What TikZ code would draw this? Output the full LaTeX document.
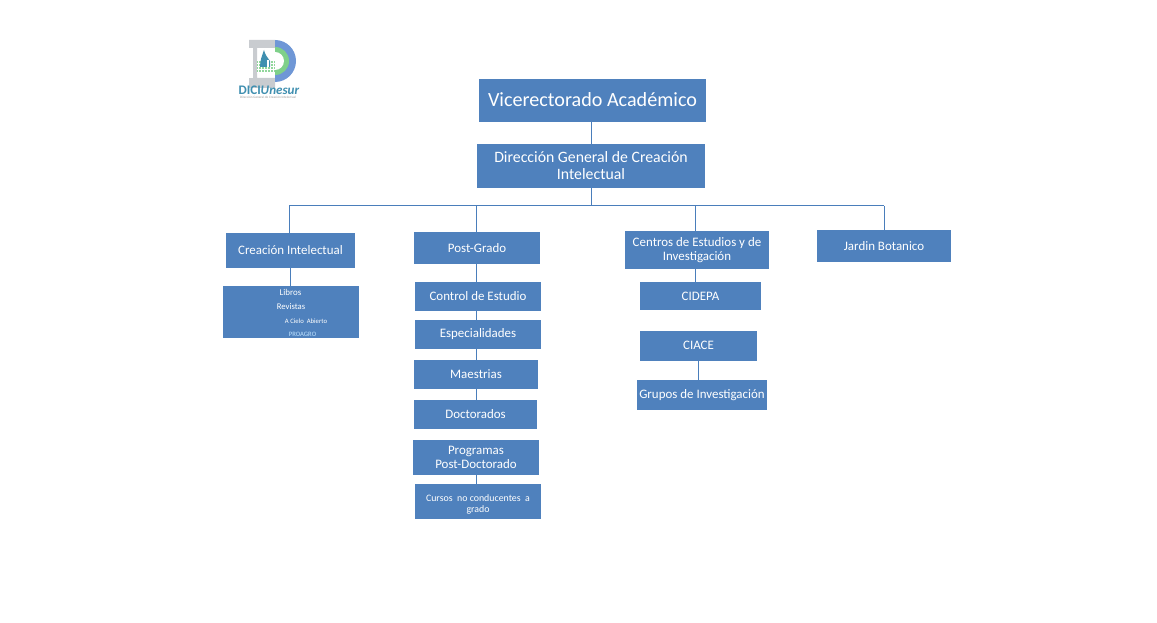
\documentclass[tikz,border=0pt]{standalone}
\usepackage{fontspec}
\setmainfont{Carlito}
\definecolor{boxblue}{HTML}{4F81BD}
\definecolor{linkblue}{HTML}{4A7EBB}
\definecolor{logogray}{HTML}{C9CCD0}
\definecolor{logoblue}{HTML}{6F97D6}
\definecolor{logogreen}{HTML}{7FD08A}
\definecolor{logoteal}{HTML}{3F8FB0}
\definecolor{paleblue}{HTML}{BFE3FF}
\tikzset{
  x=0.75pt,y=-0.75pt,
  orgbox/.style={rectangle,fill=boxblue,text=white,align=center,inner sep=0pt,font=\fontsize{9.7}{10.5}\selectfont},
  link/.style={draw=linkblue,line width=0.75pt},
  listitem/.style={text=white,inner sep=0pt}
}
% box given by its corners in pixel units
\newcommand{\orgnode}[7][]{%
  \node[orgbox,#1,minimum width=(#5-#3)*0.75pt,minimum height=(#6-#4)*0.75pt] (#2) at ({(#3+#5)/2},{(#4+#6)/2}) {#7};}
\begin{document}
\begin{tikzpicture}
\useasboundingbox (0,0) rectangle (1157,623);
\fill[white] (0,0) rectangle (1157,623);

% emblem of the directorate
\fill[logogray,even odd rule] (249,40) rectangle (275,88) (257,48) rectangle (275,78);
\fill[white] (249,48) rectangle (253,78);
\fill[logoblue] (275,40) arc[start angle=-90,end angle=90,x radius=21,y radius=21] -- cycle;
\fill[logogreen] (275,47) arc[start angle=-90,end angle=90,x radius=14,y radius=14] -- cycle;
\fill[white] (275,52) arc[start angle=-90,end angle=90,x radius=9,y radius=9] -- cycle;
\fill[logogreen!85] (257,60) rectangle (275,73);
\draw[white,line width=0.3pt,step=2.25pt] (257,60) grid (275,73);
\fill[logoteal] (264,50) .. controls (262,56) and (260,60) .. (260,67) -- (270,67) -- (270,61) .. controls (268,58) and (265,55) .. (264,50) -- cycle;
\fill[white] (267,60) rectangle (268.5,67);
\node[listitem,text=logoteal,font=\fontsize{9.8}{10}\selectfont\bfseries] (logotext) at (269,90) {DICI\textit{Unesur}};
\node[listitem,text=gray!80,font=\fontsize{2.5}{3}\selectfont] (logosub) at (268,97) {Dirección General de Creación Intelectual};

% organisation boxes
\orgnode[font=\fontsize{15.1}{18}\selectfont]{vice}{479}{79}{706}{122}{\raisebox{1.5pt}{Vicerectorado Académico}}
\orgnode[font=\fontsize{11.85}{12.75}\selectfont]{dg}{477}{144}{705}{188}{Dirección General de Creación\\Intelectual}
\orgnode{ci}{226}{233}{355}{268}{Creación Intelectual}
\orgnode{pg}{414}{232}{540}{264}{Post-Grado}
\orgnode{ce}{625}{231}{769}{269}{Centros de Estudios y de\\Investigación}
\orgnode{jb}{817}{230}{951}{262}{Jardin Botanico}
\orgnode{lista}{223}{286}{359}{338}{}
\orgnode{ctrl}{415}{282}{541}{311}{Control de Estudio}
\orgnode{esp}{415}{320}{541}{349}{Especialidades}
\orgnode{mae}{414}{360}{538}{389}{Maestrias}
\orgnode{doc}{414}{400}{537}{429}{Doctorados}
\orgnode{prog}{413}{440}{539}{475}{Programas\\Post-Doctorado}
\orgnode[font=\fontsize{7.4}{8.25}\selectfont]{cursos}{415}{484}{541}{519}{\rule{0pt}{9pt}Cursos~ no conducentes~ a\\grado}
\orgnode{cidepa}{640}{282}{761}{310}{CIDEPA}
\orgnode{ciace}{640}{331}{757}{361}{\raisebox{0.6pt}{CIACE}}
\orgnode{grupos}{637}{380}{767}{410}{Grupos de Investigación}

% entries of the publications box
\node[listitem,font=\fontsize{6.7}{8}\selectfont] (libros) at (290.5,292.5) {Libros};
\node[listitem,font=\fontsize{6.5}{8}\selectfont] (revistas) at (291,306.5) {Revistas};
\node[listitem,font=\fontsize{5}{6}\selectfont] (cielo) at (306,321) {A Cielo~ Abierto};
\node[listitem,text=paleblue,font=\fontsize{5}{6}\selectfont] (proagro) at (302.5,334) {PROAGRO};

% branch points on the horizontal bus and on the post-graduate column
\coordinate (bus) at (591,206);
\coordinate (busL) at (289,206);
\coordinate (busA) at (476,206);
\coordinate (busB) at (695,206);
\coordinate (busR) at (884,206);

% connectors
\draw[link] (dg.north) -- (dg.north |- vice.south);
\draw[link] (dg.south) -- (bus);
\draw[link] (busL) -- (busR);
\draw[link] (busL) -- (busL |- ci.north);
\draw[link] (busA) -- (busA |- pg.north);
\draw[link] (busB) -- (busB |- ce.north);
\draw[link] (busR) -- (busR |- jb.north);
\draw[link] (busL |- ci.south) ++(1,0) -- ++(0,18);
\draw[link] (busA |- pg.south) -- (busA |- ctrl.north);
\draw[link] (busA |- ctrl.south) -- (busA |- esp.north);
\draw[link] (busA |- esp.south) -- (busA |- mae.north);
\draw[link] (busA |- mae.south) -- (busA |- doc.north);
\draw[link] (busA |- prog.south) -- (busA |- cursos.north);
\draw[link] (busB |- ce.south) -- (busB |- cidepa.north);
\draw[link] (ciace.south) -- (ciace.south |- grupos.north);
\end{tikzpicture}
\end{document}
